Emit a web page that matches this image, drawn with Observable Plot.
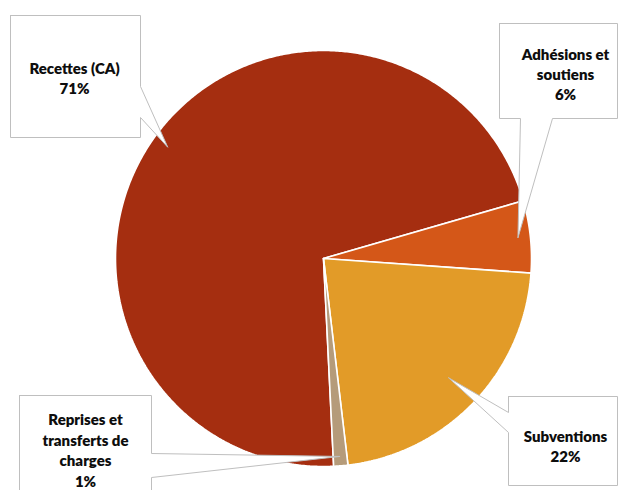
<!DOCTYPE html>
<html>
<head>
<meta charset="utf-8">
<script src="https://cdn.jsdelivr.net/npm/d3@7"></script>
<script src="https://cdn.jsdelivr.net/npm/@observablehq/plot@0.6"></script>
<style>
  html, body { margin: 0; padding: 0; background: #ffffff; }
  #chart svg { display: block; }
</style>
</head>
<body>
<div id="chart"></div>
<script>
// ---- data ----
const categories = ["Recettes (CA)", "Adhésions et soutiens", "Subventions", "Reprises et transferts de charges"];
const labelLines = ["Recettes (CA)", "Adhésions et\nsoutiens", "Subventions", "Reprises et\ntransferts de\ncharges"];
const values = [71.3, 5.6, 22.0, 1.1];
const colors = ["#A52E10", "#D45718", "#E29B28", "#B59B7A"];

// ---- layout (pixels) ----
const W = 619, H = 490, CX = 323, CY = 258, R = 208;
const START = 177.2 * Math.PI / 180;
const callouts = [
  {box: [10, 15, 140, 137], side: "right", w: [86, 117], tipR: 0.92, text: [74, 77]},
  {box: [499, 23, 617, 118], side: "bottom", w: [520, 552], tipR: 0.94, text: [565, 73]},
  {box: [508, 396, 617, 485], side: "left", w: [412, 432], tipR: 0.83, text: [565, 445]},
  {box: [19, 395, 151, 530], side: "right", w: [453, 477], tipR: 0.955, text: [85, 449]}
];

const ux = px => (px - CX) / R;
const uy = py => (py - CY) / R;

const total = d3.sum(values);
const arcs = d3.pie().sort(null).startAngle(START).endAngle(START + 2 * Math.PI)(values);

const slices = arcs.map((a, i) => {
  const pts = [{x: 0, y: 0}];
  const n = Math.max(2, Math.ceil((a.endAngle - a.startAngle) / (Math.PI / 360)));
  for (let k = 0; k <= n; k++) {
    const t = a.startAngle + (a.endAngle - a.startAngle) * k / n;
    pts.push({x: Math.sin(t), y: -Math.cos(t)});
  }
  pts.push({x: 0, y: 0});
  return {pts, color: colors[i]};
});

const labels = arcs.map((a, i) => {
  const c = callouts[i];
  const mid = (a.startAngle + a.endAngle) / 2;
  const tip = {x: c.tipR * Math.sin(mid), y: -c.tipR * Math.cos(mid)};
  const [x0, y0, x1, y1] = c.box;
  let poly;
  if (c.side === "right") {
    poly = [[x0, y0], [x1, y0], [x1, c.w[0]], null, [x1, c.w[1]], [x1, y1], [x0, y1]];
  } else if (c.side === "bottom") {
    poly = [[x0, y0], [x1, y0], [x1, y1], [c.w[1], y1], null, [c.w[0], y1], [x0, y1]];
  } else {
    poly = [[x0, y0], [x1, y0], [x1, y1], [x0, y1], [x0, c.w[1]], null, [x0, c.w[0]]];
  }
  const pts = poly.map(p => p === null ? tip : {x: ux(p[0]), y: uy(p[1])});
  pts.push(pts[0]);
  return {
    pts,
    tx: ux(c.text[0]), ty: uy(c.text[1]),
    text: labelLines[i] + "\n" + Math.round(values[i] / total * 100) + "%"
  };
});

const chart = Plot.plot({
  width: W,
  height: H,
  margin: 0,
  style: {background: "#ffffff"},
  x: {domain: [ux(0), ux(W)], range: [0, W], axis: null},
  y: {domain: [uy(0), uy(H)], range: [0, H], axis: null},
  marks: [
    ...slices.map(s => Plot.line(s.pts, {x: "x", y: "y", fill: s.color, stroke: "#ffffff", strokeWidth: 1.6, strokeLinejoin: "miter"})),
    ...labels.map(l => Plot.line(l.pts, {x: "x", y: "y", fill: "#ffffff", stroke: "#BFBFBF", strokeWidth: 1})),
    Plot.text(labels, {x: "tx", y: "ty", text: "text", fontFamily: "Lato", fontWeight: 800, fontSize: 15, fill: "#0d0d0d", lineHeight: 1.36, textAnchor: "middle", lineAnchor: "middle"})
  ]
});
document.getElementById("chart").appendChild(chart);
</script>
</body>
</html>
